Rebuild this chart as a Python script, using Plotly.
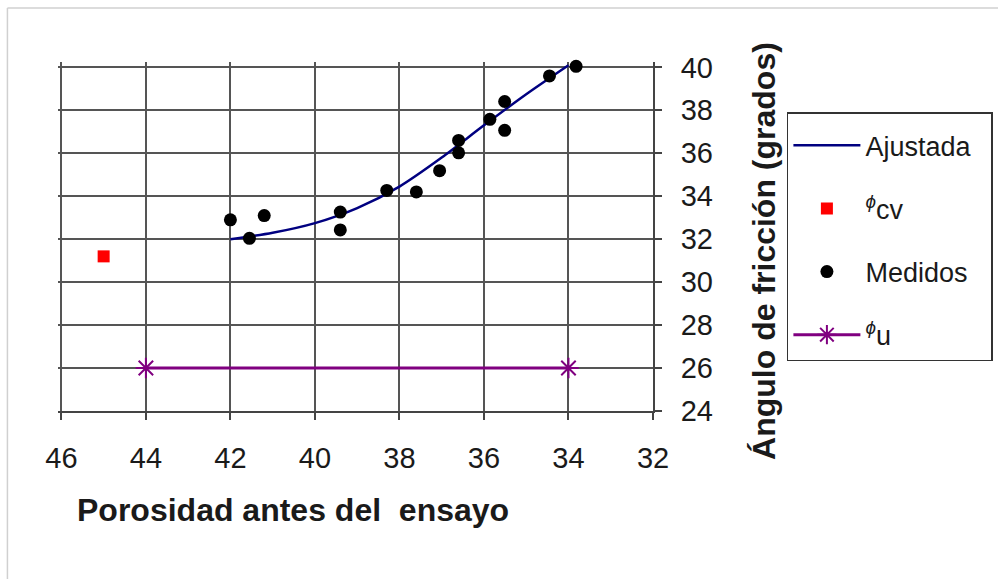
import plotly.graph_objects as go

# ---- data ----
fit_x = [42, 41, 40, 39, 38, 37, 36, 35, 34]
fit_y = [32.0, 32.3, 32.75, 33.45, 34.45, 35.8, 37.3, 38.75, 40.1]

cv_x = [45.0]
cv_y = [31.2]

med_x = [42.0, 41.55, 41.2, 39.4, 39.4, 38.3, 37.6, 37.05, 36.6, 36.6, 35.86, 35.51, 35.51, 34.45, 33.82]
med_y = [32.9, 32.04, 33.1, 33.26, 32.43, 34.27, 34.2, 35.19, 36.6, 36.02, 37.58, 38.41, 37.07, 39.6, 40.05]

u_x = [44, 34]
u_y = [26, 26]

x_ticks = [46, 44, 42, 40, 38, 36, 34, 32]
y_ticks = [24, 26, 28, 30, 32, 34, 36, 38, 40]

FONT = "Arial, 'Liberation Sans', sans-serif"
W, H = 998, 579
X_RANGE = [46.08, 32]
Y_RANGE = [24, 40.25]
L, R, T, B = 57.6, 345, 62, 168
PW, PH = W - L - R, H - T - B


def px_x(p):
    return (p - L) / PW


def px_y(p):
    return (H - B - p) / PH


NB = "\u00a0"

fig = go.Figure()
fig.add_trace(go.Scatter(x=fit_x, y=fit_y, mode="lines", name="Ajustada" + NB * 2,
                         line=dict(color="#000080", width=2.5, shape="spline", smoothing=0.8),
                         cliponaxis=False, legendgroup="a"))
fig.add_trace(go.Scatter(x=cv_x, y=cv_y, mode="markers", name="<sup><i>ϕ</i></sup>cv",
                         marker=dict(symbol="square", color="#ff0000", size=12),
                         cliponaxis=False, legendgroup="b"))
fig.add_trace(go.Scatter(x=med_x, y=med_y, mode="markers", name="Medidos",
                         marker=dict(symbol="circle", color="#000000", size=13),
                         cliponaxis=False, legendgroup="c"))
fig.add_trace(go.Scatter(x=u_x, y=u_y, mode="lines+markers", name="<sup><i>ϕ</i></sup>u",
                         line=dict(color="#800080", width=3),
                         marker=dict(symbol="asterisk", size=17, color="#800080",
                                     line=dict(color="#800080", width=2)),
                         cliponaxis=False, legendgroup="d"))

fig.update_layout(
    width=W, height=H,
    margin=dict(l=L, r=R, t=T, b=B, autoexpand=False),
    paper_bgcolor="white", plot_bgcolor="white",
    font=dict(family=FONT, color="#1a1a1a"),
    showlegend=True,
    legend=dict(
        x=px_x(787), y=px_y(112),
        xanchor="left", yanchor="top",
        bordercolor="#333333", borderwidth=1.5, bgcolor="white",
        font=dict(size=27, family=FONT, color="#1a1a1a"),
        traceorder="grouped", tracegroupgap=25,
        itemwidth=67,
        title=dict(text=NB, font=dict(size=6)),
    ),
    xaxis=dict(
        range=X_RANGE, tickvals=x_ticks, ticktext=[str(v) for v in x_ticks],
        showgrid=True, gridcolor="#555555", gridwidth=1.8,
        showline=True, linecolor="#444444", linewidth=1.8,
        ticks="outside", ticklen=7, tickcolor="#444444", tickwidth=1.5,
        tickfont=dict(size=29, family=FONT, color="#1a1a1a"),
        ticklabelstandoff=13, zeroline=False,
    ),
    yaxis=dict(
        range=Y_RANGE, tickvals=y_ticks, ticktext=[str(v) for v in y_ticks],
        side="right",
        showgrid=True, gridcolor="#555555", gridwidth=1.8,
        showline=True, linecolor="#444444", linewidth=1.8,
        ticks="outside", ticklen=7, tickcolor="#444444", tickwidth=1.5,
        tickfont=dict(size=29, family=FONT, color="#1a1a1a"),
        ticklabelstandoff=13, zeroline=False,
    ),
    annotations=[
        dict(text="<b>Porosidad antes del\u00a0 ensayo</b>", xref="paper", yref="paper",
             x=px_x(293), y=px_y(510),
             xanchor="center", yanchor="middle", showarrow=False,
             font=dict(size=32, family=FONT, color="#1a1a1a")),
        dict(text="<b>Ángulo de fricción (grados)</b>", xref="paper", yref="paper",
             x=px_x(764), y=px_y(251),
             xanchor="center", yanchor="middle", showarrow=False, textangle=-90,
             font=dict(size=32, family=FONT, color="#1a1a1a")),
    ],
    shapes=[
        dict(type="line", xref="paper", yref="paper",
             x0=px_x(7), x1=px_x(7), y0=px_y(8), y1=px_y(600),
             line=dict(color="#d0d0d0", width=1.5)),
        dict(type="line", xref="paper", yref="paper",
             x0=px_x(7), x1=px_x(1010), y0=px_y(8), y1=px_y(8),
             line=dict(color="#d0d0d0", width=1.5)),
    ],
)

fig.write_html("out.html")
